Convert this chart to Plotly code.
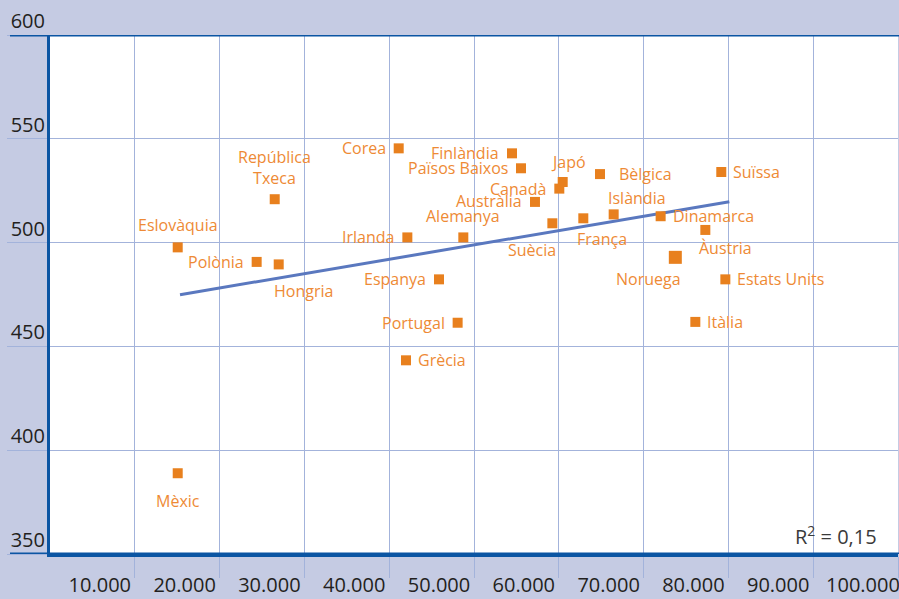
import plotly.graph_objects as go

# ---------------- data ----------------
countries = ["Eslovàquia", "República<br>Txeca", "Polònia", "Hongria", "Mèxic",
             "Corea", "Irlanda", "Alemanya", "Espanya", "Portugal", "Grècia",
             "Finlàndia", "Països Baixos", "Austràlia", "Canadà", "Japó",
             "Suècia", "França", "Bèlgica", "Islàndia", "Dinamarca", "Noruega",
             "Àustria", "Itàlia", "Suïssa", "Estats Units"]
gdp = [15060, 26500, 24370, 26970, 15060,
       41120, 42140, 48740, 45870, 48070, 41980,
       54480, 55540, 57190, 60060, 60460,
       59240, 62890, 64860, 66470, 72010, 73740,
       77280, 76100, 79160, 79640]
score = [497.7, 520.9, 490.7, 489.5, 388.9,
         545.4, 502.5, 502.5, 482.3, 461.4, 443.3,
         543.0, 535.8, 519.6, 526.0, 529.2,
         509.3, 511.7, 533.0, 513.6, 512.7, 492.9,
         506.1, 461.8, 534.0, 482.3]
trend_x = [15330, 80110]
trend_y = [474.9, 519.7]
x_tickvals = [10000, 20000, 30000, 40000, 50000, 60000, 70000, 80000, 90000, 100000]
x_ticktext = ["10.000", "20.000", "30.000", "40.000", "50.000",
              "60.000", "70.000", "80.000", "90.000", "100.000"]
y_tickvals = [350, 400, 450, 500, 550, 600]
y_ticktext = ["350", "400", "450", "500", "550", "600"]
r2_text = "R<sup>2</sup> = 0,15"

# ---------------- styles ----------------
BG = "#C5CBE3"
DARK = "#0B55A3"
GRID = "#A3B3DB"
ORANGE = "#E8801E"
LABEL = "#EE8A35"
TEXT = "#231F20"
FONT = "Open Sans"

# label placement: (xanchor, xshift px, yshift px)
label_pos = {
    "Eslovàquia": ("center", 0, 22), "República<br>Txeca": ("center", 0, 32),
    "Polònia": ("right", -12, 0), "Hongria": ("left", -6, -27),
    "Mèxic": ("center", 0, -28), "Corea": ("right", -12, 0),
    "Irlanda": ("right", -12, 0), "Alemanya": ("center", 0, 21),
    "Espanya": ("right", -12, 0), "Portugal": ("right", -12, 0),
    "Grècia": ("left", 11, 0), "Finlàndia": ("right", -12, 0),
    "Països Baixos": ("right", -12, 0), "Austràlia": ("right", -12, 1),
    "Canadà": ("right", -12, 0), "Japó": ("center", 6, 20),
    "Suècia": ("right", 5, -27), "França": ("left", -7, -21),
    "Bèlgica": ("left", 18, 0), "Islàndia": ("left", -7, 16),
    "Dinamarca": ("left", 11, 0), "Noruega": ("right", 7, -22),
    "Àustria": ("left", -7, -18), "Itàlia": ("left", 11, 0),
    "Suïssa": ("left", 11, 0), "Estats Units": ("left", 11, 0),
}
marker_sizes = [13 if c == "Noruega" else 10 for c in countries]

fig = go.Figure()
fig.add_trace(go.Scatter(x=trend_x, y=trend_y, mode="lines",
                         line=dict(color="#5A78BF", width=3),
                         hoverinfo="skip", showlegend=False))
fig.add_trace(go.Scatter(x=gdp, y=score, mode="markers",
                         marker=dict(symbol="square", size=marker_sizes, color=ORANGE,
                                     opacity=1, line=dict(width=0)),
                         text=countries, showlegend=False))

annotations = []
for c, xv, yv in zip(countries, gdp, score):
    xa, xs, ys = label_pos[c]
    annotations.append(dict(x=xv, y=yv, xref="x", yref="y", text=c, showarrow=False,
                            xanchor=xa, yanchor="middle", xshift=xs, yshift=ys,
                            font=dict(family=FONT, size=16, color=LABEL),
                            borderpad=0))
annotations.append(dict(x=(878 - 50) / 848, y=(554 - 535) / 519, xref="paper", yref="paper",
                        text=r2_text, showarrow=False, xanchor="right", yanchor="middle",
                        font=dict(family=FONT, size=20, color="#3A3A3A"), borderpad=0))

shapes = [
    dict(type="line", xref="paper", yref="y", x0=-40 / 848, x1=1.01, y0=600, y1=600,
         line=dict(color=DARK, width=3), layer="above"),
    dict(type="line", xref="paper", yref="y", x0=-40 / 848, x1=1.01, y0=350, y1=350,
         line=dict(color=DARK, width=3), layer="above"),
]

fig.update_layout(
    width=899, height=599,
    margin=dict(l=50, r=1, t=35, b=45, autoexpand=False),
    paper_bgcolor=BG, plot_bgcolor="white",
    font=dict(family=FONT, color=TEXT),
    annotations=annotations, shapes=shapes,
    showlegend=False,
)
fig.update_xaxes(range=[0, 100000], tickmode="array", tickvals=x_tickvals, ticktext=x_ticktext,
                 ticks="outside", ticklen=21, tickcolor=GRID, tickwidth=1,
                 showgrid=True, gridcolor=GRID, gridwidth=1, zeroline=False,
                 showline=True, linecolor=DARK, linewidth=3, automargin=False,
                 ticklabeloverflow="allow", ticklabelstandoff=-10,
                 ticklabelshift=-35, tickfont=dict(size=20, color=TEXT, family=FONT))
fig.update_yaxes(range=[350, 600], tickmode="array", tickvals=y_tickvals, ticktext=y_ticktext,
                 ticks="outside", ticklen=40, tickcolor=GRID, tickwidth=1,
                 showgrid=True, gridcolor=GRID, gridwidth=1, zeroline=False,
                 showline=True, linecolor=DARK, linewidth=3, automargin=False,
                 ticklabeloverflow="allow",
                 ticklabelstandoff=-42, ticklabelshift=-14,
                 tickfont=dict(size=20, color=TEXT, family=FONT))

fig.write_html("out.html", config={"displayModeBar": False},
               post_script="document.body.style.margin='0';")
